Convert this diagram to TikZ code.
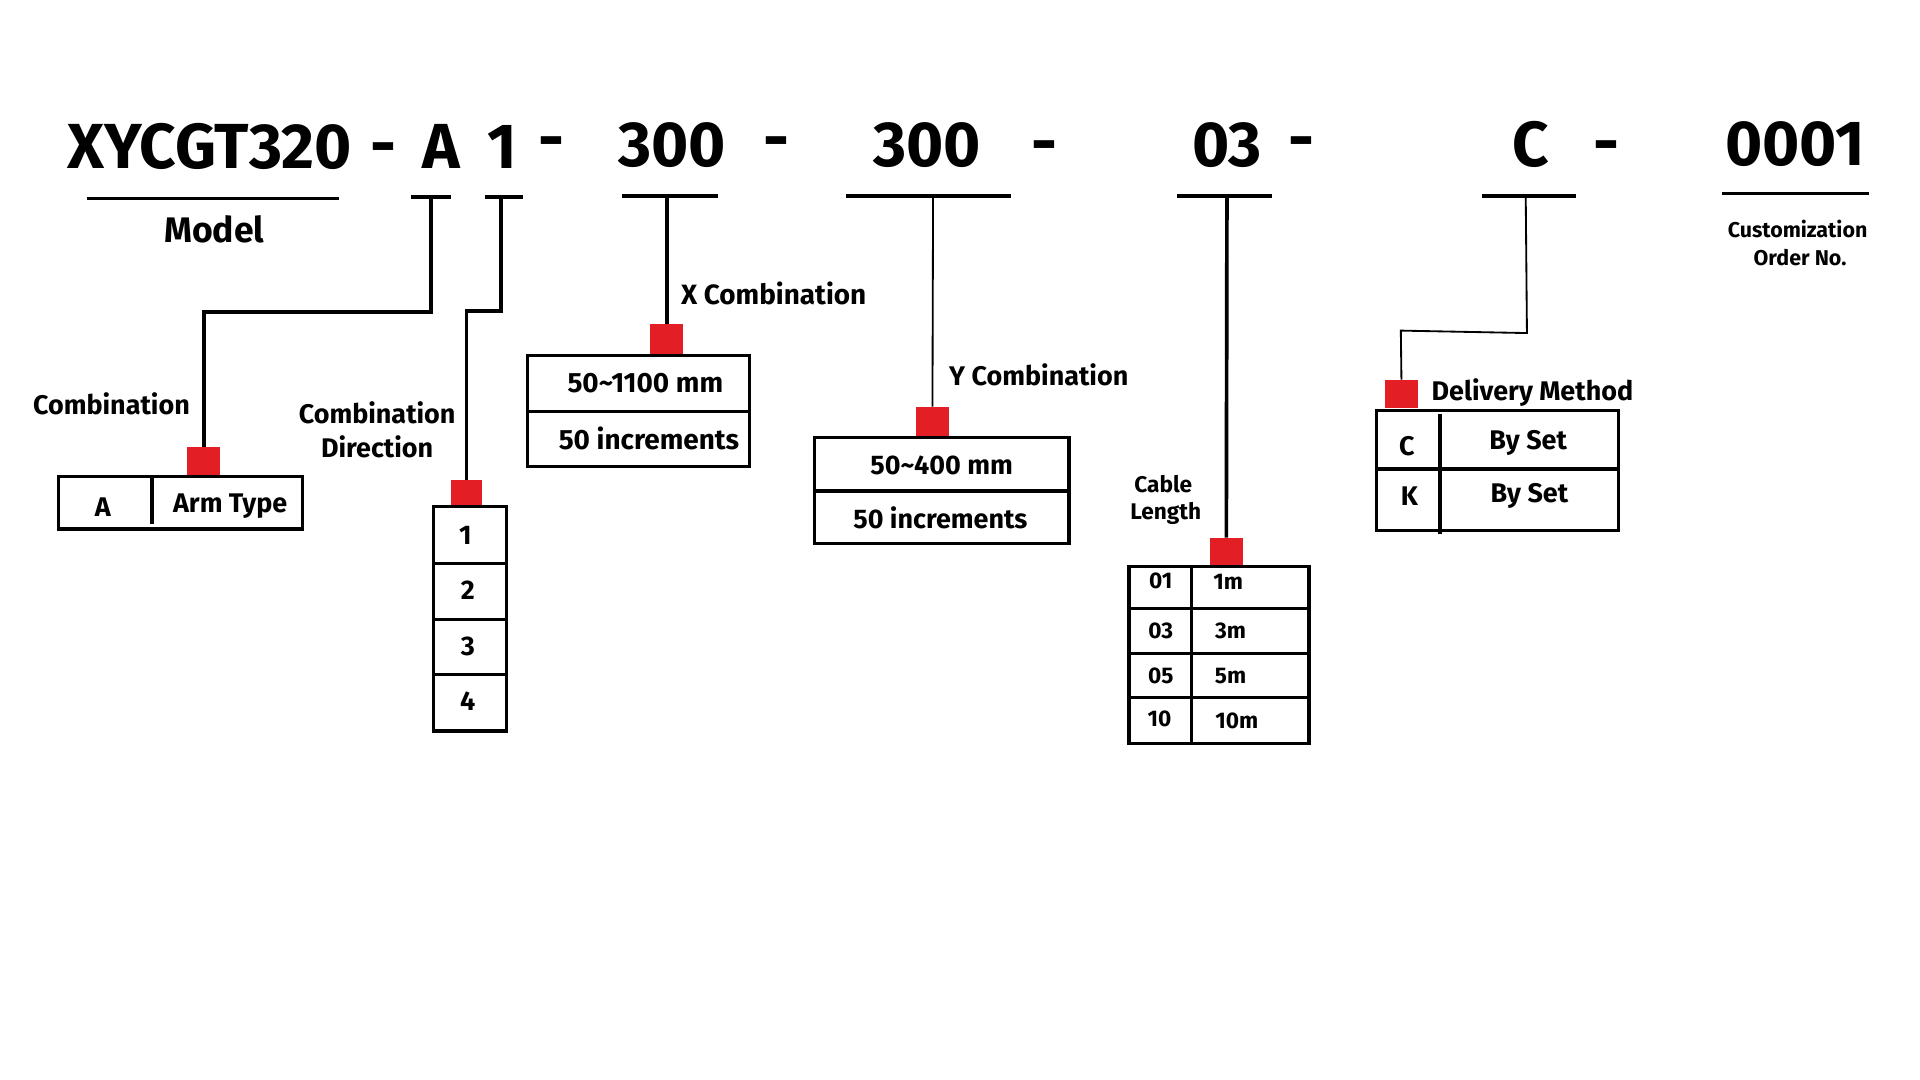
\documentclass[tikz,border=0pt]{standalone}
\usepackage{fontspec}
\setmainfont{Fira Sans}
\definecolor{mkred}{HTML}{E31E24}
\begin{document}
\begin{tikzpicture}[x=1pt,y=-1pt,
  hdr/.style={font=\fontsize{52}{60}\selectfont\bfseries, anchor=base, inner sep=0},
  sub/.style={font=\fontsize{29}{34}\selectfont\bfseries, inner sep=0},
  lbl/.style={font=\fontsize{22}{26}\selectfont\bfseries, inner sep=0},
  big/.style={font=\fontsize{22.8}{27}\selectfont\bfseries, inner sep=0},
  sml/.style={font=\fontsize{18.5}{22}\selectfont\bfseries, inner sep=0},
  tiny/.style={font=\fontsize{17.5}{21}\selectfont\bfseries, inner sep=0},
  uline/.style={line width=2.8pt},
  conn/.style={line width=3pt},
  thinconn/.style={line width=1.5pt},
  cellbox/.style={line width=2.5pt},
  redsq/.style={fill=mkred, minimum width=27pt, minimum height=23pt, inner sep=0, outer sep=0}]
\useasboundingbox (0,0) rectangle (1568,882);
\fill[white] (0,0) rectangle (1568,882);

% header
\node[hdr] (hmodel) at (171,138) {XYCGT320};
\node[hdr] (dash1) at (313,136) {-};
\node[hdr] (ha) at (360,138) {A};
\node[hdr] (h1) at (410,138) {1};
\node[hdr] (dash2) at (450,131) {-};
\node[hdr] (hx) at (549,136) {300};
\node[hdr] (dash3) at (634,131) {-};
\node[hdr] (hy) at (757,136) {300};
\node[hdr] (dash4) at (853,134) {-};
\node[hdr] (h03) at (1002,136) {03};
\node[hdr] (dash5) at (1063,131) {-};
\node[hdr] (hc) at (1250,136) {C};
\node[hdr] (dash6) at (1312,134) {-};
\node[hdr] (hn) at (1466,135) {0001};

% underlines
\draw[uline] (71,162) -- (277,162);
\draw[uline] (336,161) -- (368,161);
\draw[uline] (396,161) -- (427,161);
\draw[uline] (508,160) -- (586,160);
\draw[uline] (691,160) -- (826,160);
\draw[uline] (961,160) -- (1039,160);
\draw[uline] (1210,160) -- (1287,160);
\draw[uline] (1406,158) -- (1526,158);

\coordinate (ua) at (352,161);
\coordinate (u1) at (409,161);
\coordinate (ux) at (544.5,160);
\coordinate (uy) at (762,160);
\coordinate (u03) at (1002,160);
\coordinate (uc) at (1246,160);

\node[sub] (model) at (175,187) {Model};
\node[tiny] (cust1) at (1468,187) {Customization};
\node[tiny] (cust2) at (1470,210) {Order No.};

% ---- A : combination
\node[redsq] (ra) at (166.5,376.5) {};
\draw[conn] (ua) -- (352,255) -| (ra.north);
\node[lbl] (lcomb) at (91,330) {Combination};
\draw[cellbox] (48,389) rectangle (247,432);
\draw[line width=3pt] (124,389) -- (124,428);
\node[lbl] (ta) at (84,414) {A};
\node[lbl] (tarm) at (188,413) {Arm Type};

% ---- 1 : combination direction
\node[redsq, minimum width=26pt, minimum height=22pt] (r1) at (381,403) {};
\draw[conn] (u1) -- (409,254) -| (r1.north);
\node[lbl] (ldir1) at (308,337) {Combination};
\node[lbl] (ldir2) at (308,365) {Direction};
\draw[cellbox] (354,414) rectangle (414,597);
\draw[cellbox] (354,460) -- (414,460) (354,506) -- (414,506) (354,551) -- (414,551);
\node[lbl] (n1) at (380,437) {1};
\node[lbl] (n2) at (382,482) {2};
\node[lbl] (n3) at (382,528) {3};
\node[lbl] (n4) at (382,573) {4};

% ---- X combination
\node[redsq, minimum height=24pt] (rx) at (544.5,277) {};
\draw[conn] (ux) -- (rx.north);
\node[big, anchor=west] (lx) at (556,240) {X Combination};
\draw[cellbox] (431,290) rectangle (612,381);
\draw[cellbox] (431,336) -- (612,336);
\node[big] (x1) at (527,313) {50\textasciitilde1100 mm};
\node[big] (x2) at (530,358) {50 increments};

% ---- Y combination
\node[redsq, minimum height=24pt] (ry) at (761.5,344) {};
\draw[thinconn] (uy) -- (ry.north);
\node[lbl, anchor=west] (ly) at (775,306) {Y Combination};
\draw[cellbox] (665,357) rectangle (873,444);
\draw[cellbox] (665,401) -- (873,401);
\node[lbl] (y1) at (769,380) {50\textasciitilde400 mm};
\node[lbl] (y2) at (768,423) {50 increments};

% ---- 03 cable length
\node[redsq] (r03) at (1001.5,450.5) {};
\draw[conn] (u03) -- (r03.north);
\node[sml] (lcab1) at (950,395) {Cable};
\node[sml] (lcab2) at (952,419) {Length};
\draw[cellbox] (922,463) rectangle (1069,607);
\draw[cellbox] (973,463) -- (973,607);
\draw[cellbox] (922,497) -- (1069,497) (922,534) -- (1069,534) (922,570) -- (1069,570);
\node[sml] (c01) at (948,474) {01};
\node[sml] (m1) at (1003,475) {1m};
\node[sml] (c03) at (948,515) {03};
\node[sml] (m3) at (1005,515) {3m};
\node[sml] (c05) at (948,552) {05};
\node[sml] (m5) at (1005,552) {5m};
\node[sml] (c10) at (947,587) {10};
\node[sml] (m10) at (1010,589) {10m};

% ---- C delivery method
\node[redsq] (rc) at (1144.5,321.5) {};
\draw[thinconn] (uc) -- (1247,272) -- (1144,270) -- (rc.north);
\node[lbl, anchor=west] (ldel) at (1169,321) {Delivery Method};
\draw[cellbox] (1124,335) rectangle (1322,433);
\draw[cellbox] (1124,383) -- (1322,383);
\draw[line width=3pt] (1176,338) -- (1176,436);
\node[lbl] (dc) at (1149,364) {C};
\node[lbl] (dcs) at (1248,362) {By Set};
\node[lbl] (dk) at (1151,405) {K};
\node[lbl] (dks) at (1249,405) {By Set};
\end{tikzpicture}
\end{document}
